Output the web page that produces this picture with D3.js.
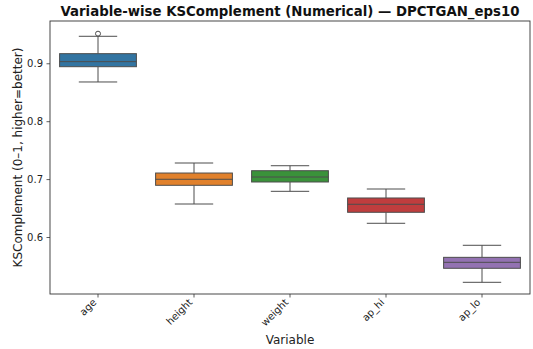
<!DOCTYPE html>
<html><head><meta charset="utf-8">
<script src="https://cdn.jsdelivr.net/npm/d3@7"></script>
<style>body{margin:0;background:#fff}svg{display:block}text{font-family:"DejaVu Sans",sans-serif}</style>
</head><body><svg id="c" width="533" height="349"></svg>
<script>
const categories = ["age","height","weight","ap_hi","ap_lo"];
const whiskerLow  = [0.8677,0.6570,0.6789,0.6237,0.5218];
const q1          = [0.8941,0.6893,0.6950,0.6427,0.5460];
const median      = [0.9028,0.6997,0.7036,0.6565,0.5563];
const q3          = [0.9166,0.7105,0.7145,0.6674,0.5649];
const whiskerHigh = [0.9466,0.7278,0.7231,0.6829,0.5857];
const outliers    = [[0.9511],[],[],[],[]];
const colors = ["#3274a1","#e1812c","#3a923a","#c03d3e","#9372b2"];
const yTicks = [0.6,0.7,0.8,0.9];

const svg = d3.select("#c");
const m = {l:50, r:530, t:21, b:294};
const x = d3.scaleBand().domain(categories).range([m.l,m.r]).paddingInner(0).paddingOuter(0);
const y = d3.scaleLinear().domain([0.5016,0.973]).range([m.b,m.t]);
const lc = "#4d4d4d";

// axes
const yAxis = svg.append("g").attr("transform",`translate(${m.l},0)`)
  .call(d3.axisLeft(y).tickValues(yTicks).tickSize(3.5).tickPadding(3.5).tickFormat(d3.format(".1f")));
const xAxis = svg.append("g").attr("transform",`translate(0,${m.b})`)
  .call(d3.axisBottom(x).tickSize(3.5).tickPadding(3.5));
[yAxis,xAxis].forEach(a=>{a.select(".domain").remove();a.selectAll("line").attr("stroke","#333").attr("stroke-width",0.8);
  a.selectAll("text").attr("font-size",10).attr("fill","#222");});
xAxis.selectAll("text").attr("text-anchor","end").attr("dy",null).attr("y",0)
  .attr("transform","translate(-1,9) rotate(-45)");

// frame
svg.append("rect").attr("x",m.l).attr("y",m.t).attr("width",m.r-m.l).attr("height",m.b-m.t)
  .attr("fill","none").attr("stroke","#333").attr("stroke-width",0.9);

const bw = x.bandwidth()*0.8;
const capw = bw*0.5;
categories.forEach((c,i)=>{
  const cx = x(c)+x.bandwidth()/2;
  const g = svg.append("g");
  g.append("line").attr("x1",cx).attr("x2",cx).attr("y1",y(whiskerHigh[i])).attr("y2",y(q3[i])).attr("stroke",lc).attr("stroke-width",1);
  g.append("line").attr("x1",cx).attr("x2",cx).attr("y1",y(q1[i])).attr("y2",y(whiskerLow[i])).attr("stroke",lc).attr("stroke-width",1);
  [whiskerHigh[i],whiskerLow[i]].forEach(v=>g.append("line").attr("x1",cx-capw/2).attr("x2",cx+capw/2).attr("y1",y(v)).attr("y2",y(v)).attr("stroke",lc).attr("stroke-width",1));
  g.append("rect").attr("x",cx-bw/2).attr("width",bw).attr("y",y(q3[i])).attr("height",y(q1[i])-y(q3[i]))
    .attr("fill",colors[i]).attr("stroke",lc).attr("stroke-width",1);
  g.append("line").attr("x1",cx-bw/2).attr("x2",cx+bw/2).attr("y1",y(median[i])).attr("y2",y(median[i])).attr("stroke",lc).attr("stroke-width",1);
  outliers[i].forEach(v=>g.append("circle").attr("cx",cx).attr("cy",y(v)).attr("r",2.5).attr("fill","none").attr("stroke",lc).attr("stroke-width",1));
});

svg.append("text").attr("x",(m.l+m.r)/2).attr("y",16).attr("text-anchor","middle").attr("font-size",13.3).attr("font-weight","bold").attr("fill","#111")
  .text("Variable-wise KSComplement (Numerical) — DPCTGAN_eps10");
svg.append("text").attr("x",(m.l+m.r)/2).attr("y",344).attr("text-anchor","middle").attr("font-size",12).attr("fill","#222").text("Variable");
svg.append("text").attr("transform",`translate(22,${(m.t+m.b)/2}) rotate(-90)`).attr("text-anchor","middle").attr("font-size",12).attr("fill","#222")
  .text("KSComplement (0–1, higher=better)");
</script></body></html>
